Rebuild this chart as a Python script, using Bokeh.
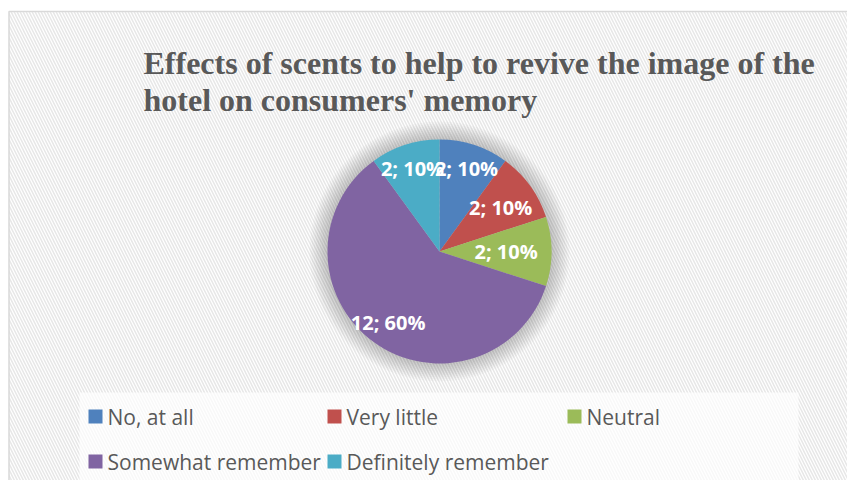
import numpy as np
from bokeh.plotting import figure
from bokeh.models import Range1d
from bokeh.core.properties import value
from bokeh.embed import file_html
from bokeh.resources import INLINE

# ---- data ----
title_lines = ["Effects of scents to help to revive the image of the",
               "hotel on consumers' memory"]
categories = ["No, at all", "Very little", "Neutral",
              "Somewhat remember", "Definitely remember"]
counts = [2, 2, 2, 12, 2]
colors = ["#4F81BD", "#C0504D", "#9BBB59", "#8064A2", "#4BACC6"]

# ---- style / layout ----
W, H = 847, 480
cx, cy, R = 439, 229, 112
label_frac = [0.78, 0.675, 0.595, 0.78, 0.78]

p = figure(width=W, height=H, x_range=Range1d(0, W), y_range=Range1d(0, H),
           toolbar_location=None, output_backend="svg", min_border=0,
           x_axis_location=None, y_axis_location=None)
p.grid.visible = False
p.outline_line_color = None
p.background_fill_color = "white"
p.border_fill_color = "white"

# hatched chart area with border
p.quad(left=[8.5], right=[W + 20], bottom=[-20], top=[469], fill_color="white",
       hatch_pattern="\\", hatch_color="#e7e7e7", hatch_scale=6, hatch_weight=1.5,
       line_color="#d9d9d9", line_width=1.5)

# title
for i, t in enumerate(title_lines):
    p.text(x=[143], y=[418 - 37 * i], text=[t], text_font=value("Liberation Serif"),
           text_font_style="bold", text_font_size="32px", text_color="#595959",
           text_baseline="alphabetic", text_align="left")

# soft halo around pie
halo_r = [R + k for k in range(18, 0, -2)]
p.circle(x=[cx] * len(halo_r), y=[cy] * len(halo_r), radius=halo_r,
         fill_color="black", fill_alpha=0.025, line_color=None)

# pie slices (clockwise from 12 o'clock)
vals = np.array(counts, dtype=float)
frac = vals / vals.sum()
cum = np.concatenate([[0], np.cumsum(frac)])
starts = np.pi / 2 - 2 * np.pi * cum[:-1]
ends = np.pi / 2 - 2 * np.pi * cum[1:]
p.wedge(x=[cx] * len(vals), y=[cy] * len(vals), radius=R,
        start_angle=list(starts), end_angle=list(ends), direction="clock",
        fill_color=colors, line_color=None)

# data labels
mids = (starts + ends) / 2
lx = [cx + R * f * np.cos(a) for f, a in zip(label_frac, mids)]
ly = [cy + R * f * np.sin(a) for f, a in zip(label_frac, mids)]
labels = [f"{c}; {round(100 * fr)}%" for c, fr in zip(counts, frac)]
order = [4, 0, 1, 2, 3]
p.text(x=[lx[i] for i in order], y=[ly[i] for i in order], text=[labels[i] for i in order],
       text_font=value("Open Sans"), text_font_style="bold", text_font_size="20px",
       text_color="white", text_align="center", text_baseline="middle")

# legend box
p.quad(left=[79], right=[798], bottom=[-5], top=[88], fill_color="white",
       fill_alpha=0.7, line_color=None)
col_x = [88, 327, 567]
row_y = [64, 19]
sq = 14
for i, (name, col) in enumerate(zip(categories, colors)):
    x0 = col_x[i % 3]
    y0 = row_y[i // 3]
    p.rect(x=[x0 + sq / 2], y=[y0], width=sq, height=sq, fill_color=col, line_color=None)
    p.text(x=[x0 + sq + 5], y=[y0], text=[name], text_font=value("Open Sans"),
           text_font_size="21px", text_color="#595959", text_align="left",
           text_baseline="middle")

open("out.html", "w").write(file_html(p, INLINE))
